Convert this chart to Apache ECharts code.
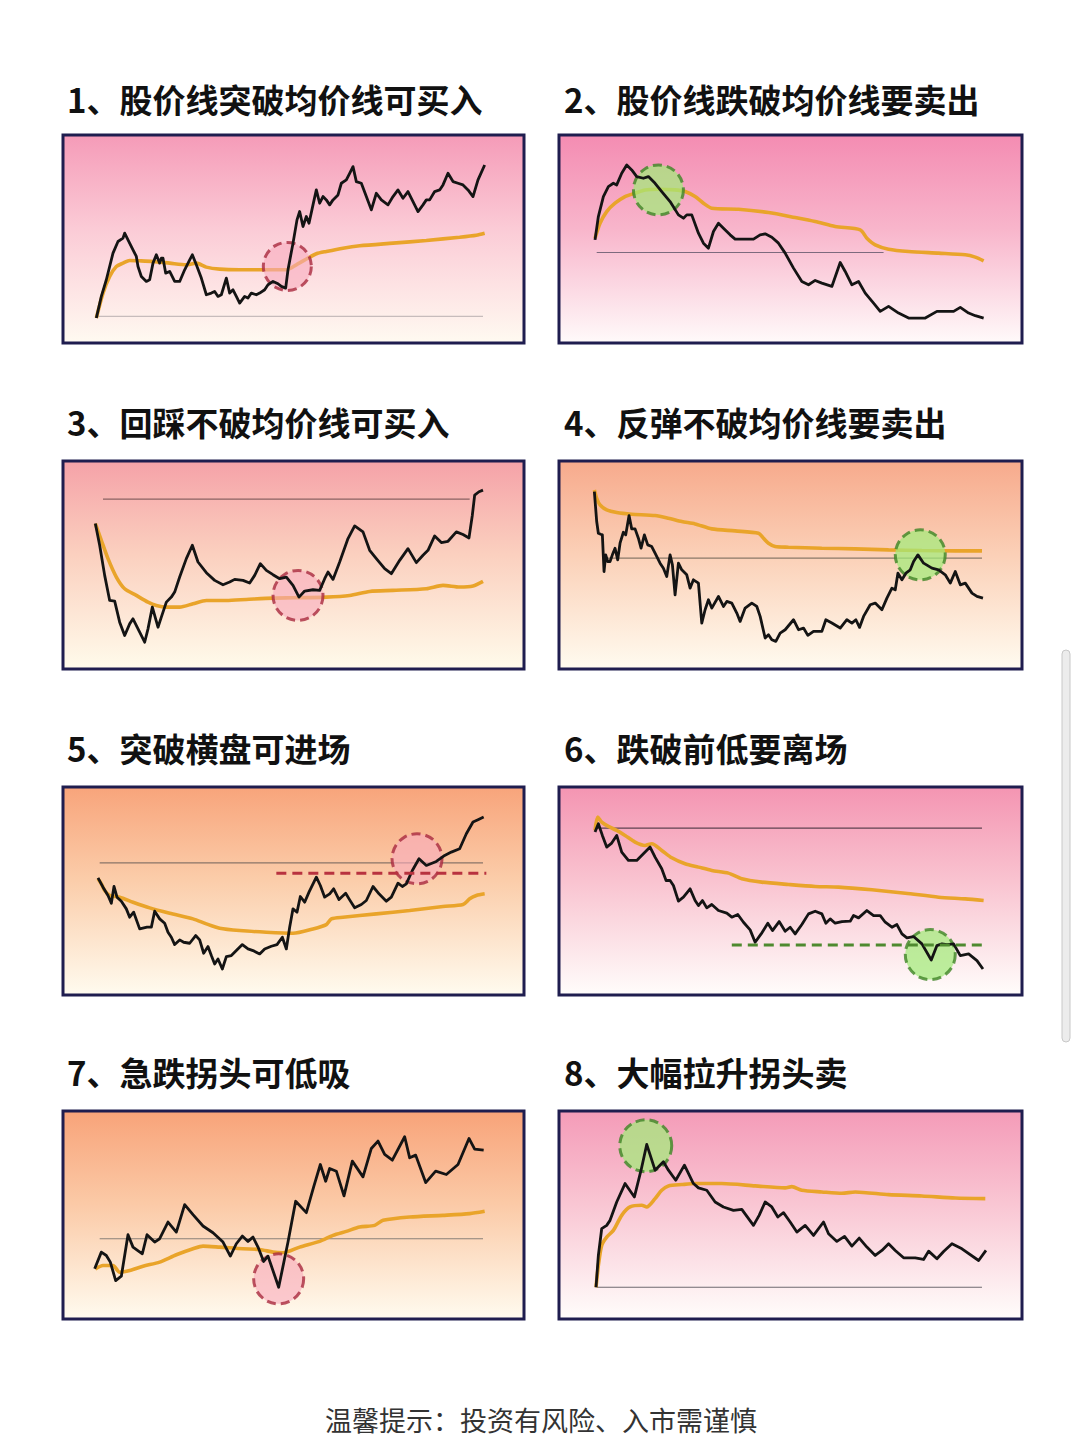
<!DOCTYPE html>
<html><head><meta charset="utf-8">
<script src="https://cdn.jsdelivr.net/npm/echarts@6/dist/echarts.min.js"></script>
<style>html,body{margin:0;padding:0;background:#fff}#c{width:1080px;height:1438px}</style>
</head><body><div id="c"></div>
<script>
// ---------- titles ----------
const titles = ['1、股价线突破均价线可买入','2、股价线跌破均价线要卖出','3、回踩不破均价线可买入','4、反弹不破均价线要卖出','5、突破横盘可进场','6、跌破前低要离场','7、急跌拐头可低吸','8、大幅拉升拐头卖'];
const footer = '温馨提示：投资有风险、入市需谨慎';

// ---------- panel 1 ----------
const price1 = [[11,9.5],[12.5,16],[14,21],[16,29],[17.5,32.5],[19,33.5],[19.5,35],[20.5,33],[22,30],[23,28],[23.5,25],[24.5,22],[26,20.5],[27,21],[28,26],[29,28.5],[30,26],[30.5,27.5],[31,27.5],[31.8,23],[33,23.5],[34.5,20.5],[36,20.5],[37.5,24],[39,27],[39.8,28.5],[41,25.5],[42.5,21.5],[44,16.5],[45.5,17],[46.5,17.5],[47.5,16],[48.5,16.5],[50,21.5],[51,17],[52,18],[53,16],[54,14],[55.5,16],[56.5,15.5],[57.5,17],[59,16.5],[60,17],[61.5,18],[62.5,19.5],[64,20.5],[65.5,19.8],[66.5,19],[67.8,18.5],[68.5,24],[70,32],[71.2,39],[72,41.5],[73,37],[74,40],[74.8,38],[76,43.5],[77,48],[78,44],[79,46],[80,45],[81,43.5],[82,45],[83.5,46.5],[84.5,50],[86,51],[87,53],[88,55],[89,50.5],[90.5,50],[92,46],[93.5,42],[95,47],[96.5,45],[98.5,43.5],[100,46],[101.5,48],[103,45.5],[104.5,47.5],[106,44.5],[107.5,41.5],[109,43.5],[110,45],[111,45],[112.5,47.5],[114,48],[115,49.5],[116.5,53],[118,50.5],[119.5,50],[121,49.5],[122.5,48],[124,46],[125.5,51],[127.5,55.5]];
const ma1 = [[11,9.5],[13,17],[15,22],[17,25],[19,26],[21,26.8],[24,26.7],[28,26.5],[33,26],[38,25.5],[41,26],[44,24.8],[48,24.2],[54,24],[61,24],[68,24],[71,25.5],[74.5,27.5],[77,28.8],[80,29.5],[85,30.5],[90,31.2],[100,32],[110,32.8],[120,33.8],[125,34.4],[127.5,35]];
const ref1 = [[[11,10],[127,10]]];
const circle1 = [68.3,25];

// ---------- panel 2 ----------
const price2 = [[12,33],[13,40],[14.5,46],[16,49],[17.5,50],[18.5,49.5],[20,53],[21.5,55.5],[23,54],[24.5,52],[26.5,51.5],[28,52],[30,50],[32,47.5],[34.5,44.5],[37,40.5],[38.5,39.5],[39.5,40.5],[41,40.5],[43,35],[44.5,32],[46,30.5],[47.5,35.5],[49,38],[50.5,36.5],[52.5,34.5],[54,33.2],[56,33.2],[59.5,33.2],[61.5,34.5],[63,34.8],[65,33.8],[67,32],[69,29],[71.5,24.5],[74,20.5],[76,19.5],[78,20.8],[80,20],[83,19],[85.5,26.2],[87,23.5],[89,19.5],[91,20.5],[93,17],[95.5,14],[97.5,11.5],[100,13],[103,11],[106,9.5],[111,9.5],[114.5,11.5],[117,11.5],[119.5,11.5],[121.5,12.7],[124,11],[126,10.2],[128.5,9.5]];
const ma2 = [[12,33.5],[13.5,38],[15.5,41.5],[18,44],[21,46],[24,47],[27,48],[31,48.2],[36,48],[39,47.5],[42,46],[44.5,44],[47,42.5],[55,42.2],[64,41.2],[72,39.7],[78,38.5],[84,37],[91.5,36],[93.5,33.5],[96,31.5],[100,30.2],[106,29.5],[115,29],[123,28.5],[126,27.8],[128.5,26.7]];
const ref2 = [[[12.5,29.2],[98.5,29.2]]];
const circle2 = [31,48];

// ---------- panel 3 ----------
const price3 = [[10.7,45.5],[12,39],[13.5,30],[15,22.5],[16.5,22.3],[18,16],[19.5,12],[21,15.5],[22,17],[24,13],[25.5,10],[26.5,14],[27.8,20.5],[29.5,14.5],[30.5,17.5],[32,22],[33.5,23.5],[34.5,25],[36,29.5],[38,35],[39.8,39],[41.5,34],[44,30.8],[46.5,28.5],[49,27.2],[51,28],[52.5,28.8],[55,28.5],[57,27.7],[58.5,30],[60.2,33.5],[62,31.5],[64,30.2],[66,29],[68,29.5],[70,27],[71.8,23.5],[73.5,25.3],[76,25.7],[78,25.5],[79.5,29],[80.5,31],[82,28.8],[84,34],[86.5,41],[88.5,44.8],[91,43],[93,37.5],[95,35],[97.5,32],[99.5,30.5],[102,34.5],[104.5,38],[107,33.8],[109,36],[110.5,37.5],[112.5,41.8],[114.5,39.8],[116.5,40.2],[119,43],[121,42.2],[122.8,41.2],[123.8,48],[124.5,54],[125.8,55],[127,55.5]];
const ma3 = [[10.7,45.5],[12.5,40.5],[14.5,35],[17,29.5],[19.5,26],[23,24],[26.5,22],[29,21],[32,20.5],[36,20.5],[40,21.5],[44,22.5],[50,22.5],[56,22.8],[64,23.2],[70,23.3],[80,23.5],[87,24],[93,25.2],[100,25.5],[110,26],[115,27],[120,26.5],[124,26.8],[127,28.2]];
const ref3 = [[[13,52.8],[123,52.8]]];
const circle3 = [71.5,24];

// ---------- panel 4 ----------
const price4 = [[11.8,55],[12.5,46],[13,42.5],[13.7,42.2],[14.2,42],[14.7,31],[15.2,36],[15.8,34],[16.5,34],[17.2,36],[18,38],[18.8,34.5],[19.5,39.5],[20.5,42.8],[21.2,42],[22.2,47.8],[23,43.8],[24,43.8],[25,41],[25.8,38],[26.8,42],[27.8,39],[29,38.5],[30,36.5],[31.5,33.5],[32.5,32],[33.5,29.5],[34.5,36],[35.2,33],[36,24],[37,33.5],[38,31.5],[39.5,30],[40.5,26],[41.5,28.5],[43,27.5],[44,15.5],[45,19.5],[46,22.5],[47,20],[49,23.5],[50.5,20.5],[51.5,22],[53,21.5],[54.5,18.5],[55.5,16],[57,20],[59,21.5],[60.5,20.5],[61.5,17.5],[63,11],[64,12],[65,10.5],[66.2,10],[67.5,12.5],[69,13.5],[71.5,16.5],[73,13.5],[74.5,14],[75.8,11.8],[77.5,13],[80,13],[81.2,16.5],[83,15.5],[85.5,14],[87.5,16.5],[89,15.5],[90.2,16.5],[91.3,14.2],[92.5,17.5],[94.5,21],[96,21.5],[98,19.5],[99.5,23],[101,26],[102,25.5],[102.8,30.5],[104,28.5],[105.2,30.5],[106.5,31.5],[107.5,34],[108.8,36],[110.5,33.5],[113,32],[115,31.5],[117,30],[118.5,27.5],[120,31],[121.5,27],[123,27.5],[125,24.5],[126.5,23.5],[128.3,23]];
const ma4 = [[11.8,55.5],[12.5,53],[13.5,51],[15.5,49.5],[18.5,48.7],[23,48.2],[30,47.8],[34,47],[38,46],[42,45.3],[47,43.8],[54,43.2],[61,42.5],[62.5,41],[64,39.5],[66,38.5],[70,38.3],[80,38],[90,37.8],[100,37.5],[110,37.3],[120,37.2],[128,37.2]];
const ref4 = [[[14.5,35],[128,35]]];
const circle4 = [109.5,36];

// ---------- panel 5 ----------
const price5 = [[11.5,36.8],[13,34],[14.5,31.5],[15.5,29.2],[16.3,34.2],[17.2,31],[18.5,29.8],[20,27.5],[21,25],[22.2,26.5],[24,21.5],[26.2,22],[27.5,22],[28.5,26.8],[30,24.5],[31.5,23.2],[32.5,20.5],[33.5,19],[34.5,16.8],[36,18.2],[37.2,17.5],[39,17.2],[40.8,19.5],[42,18.2],[43.2,14.2],[44.5,16.2],[45.5,13.5],[46.5,11],[47.5,12.5],[48.8,9.5],[50,13.2],[51.5,13.5],[53,15],[54.8,16.8],[56.5,15.5],[58,15],[60,14],[61.5,15.5],[63.5,16.3],[65.2,16.8],[66.8,19],[68,15.5],[69,22],[70,27.5],[71.2,26.5],[72.2,31.2],[73.5,29.5],[74.8,32.5],[77,37],[78.2,34.5],[79.5,31],[81,32],[82.2,33.5],[83.8,30.3],[85.8,32.2],[87,30.2],[88.5,27.8],[90.5,28.8],[92,30],[94,34.2],[95.8,32],[98,29.8],[99.5,31],[101.5,35.2],[102.8,34.2],[104,35],[105.8,39],[107.8,42.5],[110,40.5],[113,41.7],[115.5,43.5],[117.5,44.5],[120,45.5],[122,50],[124,53.5],[125.5,54.2],[127.2,55]];
const ma5 = [[11.5,36.5],[12.5,35],[13.5,33],[15,31.5],[18,31],[22,29.5],[27,27.8],[33,26.2],[40,24.5],[44,23],[48,21.7],[54,21],[62,20.5],[70,20.2],[76,21.5],[80,22.8],[81.5,24.5],[85,25],[95,26],[105,27],[115,28.2],[121,28.8],[123,30.5],[125,31.5],[127.5,32]];
const ref5 = [[[12,41.3],[127,41.3]]];
const dash5 = [[65,38.2],[128,38.2]];
const circle5 = [107.2,42.5];

// ---------- panel 6 ----------
const price6 = [[12,50.5],[13,53],[14.2,49.5],[15.5,46],[17,47.2],[18.5,49.5],[20,44.5],[22,42],[24.5,42],[26.5,44],[28.5,46],[30,43],[32,39.5],[33.3,36],[34.5,36],[35.5,34.5],[37,29.8],[38.5,31],[40.5,33.5],[42,30],[43,28.5],[44.2,30],[45.5,27.8],[47,28.8],[49,27],[51.5,26.2],[53,25],[54.8,25.8],[56.5,23.5],[58.5,21.2],[60,17.5],[61.8,20],[63.8,23.2],[65.2,21],[67.2,23.7],[69,20.8],[70.5,22],[72,20],[74,22.8],[76,26],[78,26.8],[80,26],[81.2,23.2],[82.5,24.5],[84,23.2],[86,23.7],[88.5,23.8],[89.5,25.5],[91,24.8],[93.5,27],[95.5,25.5],[97.5,25.5],[99,23.5],[101,22],[102.5,22.8],[104,20],[105.5,18.8],[107.5,19.2],[110,17],[112.8,12.2],[114.5,16.5],[116,17],[117.5,16.8],[119.5,17],[121.5,13.5],[124,14],[126.5,12],[128.3,9.5]];
const ma6 = [[12,51],[12.8,55],[14,53.5],[16,52.2],[18.5,51],[21,49.5],[24,47.5],[27,46.5],[29,47],[32,45],[35,42.8],[39,41],[43,40],[47,39],[52,38.2],[56,36.5],[62,35.5],[70,34.8],[78,34.2],[85,34],[95,33.2],[105,32.2],[115,31],[123,30.5],[128.5,30]];
const ref6 = [[[12,51.7],[128,51.7]]];
const dash6 = [[53,16.7],[128.5,16.7]];
const circle6 = [112.5,13.8];

// ---------- panel 7 ----------
const price7 = [[10.5,17],[12.5,22],[14,21],[15.2,19],[16.8,13.5],[18.5,14.8],[20.5,27.2],[22,23.5],[24.8,21.5],[26.2,27.2],[28.5,25],[30,26],[32.5,31],[35,28],[37.5,36.2],[40,33.2],[43,29.8],[46,27.8],[49,25],[51.2,20.8],[53,24.5],[54.8,26.8],[56.5,25.2],[58,26.5],[59.5,23.5],[61.2,19.2],[62.5,20.8],[65.7,11.5],[68.5,25],[70.8,37.2],[74,33.8],[76.2,41.5],[78.2,48.2],[79.8,43.2],[81,47],[83,46.2],[85.3,38.8],[87.8,49.2],[91,44.5],[93.5,53],[95.5,55.2],[97.5,51.2],[99.8,49.5],[103.5,56.5],[105,50.2],[106.8,51],[109.8,42.8],[112.8,46.2],[116,45.2],[119.5,48.2],[122.8,56],[124.5,52.8],[127.2,52.5]];
const ma7 = [[10.7,17],[13,18],[16,18],[18,16],[21,16.5],[25,17.8],[30,19],[35,21.2],[40,23],[43,23.8],[48,23.5],[55,23],[60,22.8],[64,22],[67,21.8],[72,23.5],[78,25.2],[82,27],[86,28.2],[90,29.5],[94.5,30],[97,31.5],[105,32.5],[115,33],[123,33.5],[127.5,34.2]];
const ref7 = [[[12,26],[127,26]]];
const circle7 = [65.7,14];

// ---------- panel 8 ----------
const price8 = [[12.3,11.5],[13,21],[14,29],[15.5,30],[16.5,31.5],[18.5,37],[21,42.5],[23.8,38.5],[25.8,46.5],[27.5,54.2],[30,46.5],[32.5,49],[34,46.5],[36.2,43.5],[38.8,48],[41.5,42.5],[43,41.2],[45.5,40.5],[48,37],[50.5,35.5],[53.5,34.5],[56,34.8],[59.5,30],[61.2,33],[63,37],[65,35.5],[66.8,32.5],[68.5,33.8],[70.5,31],[72.5,28],[75,30],[77.5,27],[80.5,31],[82,27.5],[84.5,25.2],[86.8,26.7],[89,23.8],[91.2,26.2],[93.5,23.5],[96,21],[98,22.5],[100,24.5],[102,22.5],[104.5,20.3],[108,20.3],[110.5,19.8],[112,22.3],[114.5,20],[116.5,22.2],[119,24.5],[122,23],[127,19.5],[129.2,22.5]];
const ma8 = [[12.3,11.5],[13,18],[14,24],[15.5,26.5],[17.5,28.5],[20,33],[22.5,35.5],[26,36],[27.5,35.5],[30,38],[32,40.5],[34,41.8],[38,42.2],[42,42.5],[50,42.5],[60,41.8],[69,41.2],[71,41.6],[74,40.5],[80,40],[86,39.6],[90,40],[100,39.2],[110,38.8],[120,38.2],[129,38]];
const ref8 = [[[12.5,11.5],[128,11.5]]];
const circle8 = [27.2,53.8];

// ---------- layout / styles ----------
const RED = {fill:'rgba(248,172,190,0.75)', stroke:'#a92a3e'};
const GREEN = {fill:'rgba(162,236,122,0.9)', stroke:'#3f8426'};
const panels = [
  {price:price1, ma:ma1, refs:ref1, circle:circle1, mark:RED, size:48, col:0,row:0, xr:[1.0,139.3], yr:[2.0,64.5], bg:['#f59bb8','#fbcbd6','#fffaf1'], refColor:'#c7bcbc'},
  {price:price2, ma:ma2, refs:ref2, circle:circle2, mark:GREEN, size:50, col:1,row:0, xr:[1.2,140], yr:[2.0,64.5], bg:['#f48cb2','#f8b5cb','#fffafa'], refColor:'#7d6a7e'},
  {price:price3, ma:ma3, refs:ref3, circle:circle3, mark:RED, size:50, col:0,row:1, xr:[1.0,139.3], yr:[2.0,64.2], bg:['#f5a2a8','#fbd0bf','#fffbeb'], refColor:'#8a6262'},
  {price:price4, ma:ma4, refs:ref4, circle:circle4, mark:GREEN, size:50, col:1,row:1, xr:[1.2,140], yr:[1.7,64.2], bg:['#f7aa8c','#fbd0b7','#fffbf0'], refColor:'#8a7868'},
  {price:price5, ma:ma5, refs:ref5, circle:circle5, mark:RED, size:50, col:0,row:2, xr:[1.0,139.3], yr:[1.7,64.0], bg:['#f8a47b','#fbcdaa','#fffbef'], refColor:'#8a7468', dash:dash5, dashColor:'#b8323f'},
  {price:price6, ma:ma6, refs:ref6, circle:circle6, mark:GREEN, size:50, col:1,row:2, xr:[1.2,140], yr:[1.7,64.0], bg:['#f495b2','#f9c3d0','#fffdfb'], refColor:'#5e4250', dash:dash6, dashColor:'#4e8a2f'},
  {price:price7, ma:ma7, refs:ref7, circle:circle7, mark:RED, size:50, col:0,row:3, xr:[1.0,139.3], yr:[2.0,64.2], bg:['#f8a379','#fbcaa7','#fffbef'], refColor:'#8a8078'},
  {price:price8, ma:ma8, refs:ref8, circle:circle8, mark:GREEN, size:52, col:1,row:3, xr:[1.2,140], yr:[2.0,64.2], bg:['#f49bb8','#f9c6d3','#fffdfb'], refColor:'#6e6a70'}
];
const colLeft = [63, 559], colWidth = [461, 463];
const rowTop = [135, 461, 787, 1111], boxH = 208;
const titleY = [99, 422, 748, 1072], titleX = [67, 564];

const chart = echarts.init(document.getElementById('c'), null, {renderer:'svg'});
const grids = [], xAxes = [], yAxes = [], series = [], graphics = [];

panels.forEach((p, i) => {
  const left = colLeft[p.col], top = rowTop[p.row], w = colWidth[p.col];
  grids.push({left, top, width:w, height:boxH, containLabel:false});
  xAxes.push({type:'value', gridIndex:i, min:p.xr[0], max:p.xr[1], show:false});
  yAxes.push({type:'value', gridIndex:i, min:p.yr[0], max:p.yr[1], show:false});
  graphics.push({type:'rect', z:-10, shape:{x:left, y:top, width:w, height:boxH},
    style:{fill:new echarts.graphic.LinearGradient(0,0,0,1,[{offset:0,color:p.bg[0]},{offset:0.45,color:p.bg[1]},{offset:1,color:p.bg[2]}]), stroke:'#1f1d4f', lineWidth:3}});
  graphics.push({type:'text', style:{text:titles[i], x:titleX[p.col], y:titleY[p.row], fill:'#111', font:'bold 33px "Noto Sans CJK SC"', textVerticalAlign:'middle', textAlign:'left'}});
  p.refs.forEach(r => series.push({type:'line', xAxisIndex:i, yAxisIndex:i, data:r, symbol:'none', silent:true, z:1,
    lineStyle:{color:p.refColor, width:1.2}}));
  series.push({type:'line', xAxisIndex:i, yAxisIndex:i, data:p.ma, symbol:'none', smooth:0.25, silent:true, z:2,
    lineStyle:{color:'#e9a42a', width:3.6}});
  series.push({type:'scatter', xAxisIndex:i, yAxisIndex:i, data:[p.circle], symbol:'circle', symbolSize:p.size, silent:true, z:3,
    itemStyle:{color:p.mark.fill, borderColor:p.mark.stroke, borderWidth:3, borderType:[9,5]}});
  series.push({type:'line', xAxisIndex:i, yAxisIndex:i, data:p.price, symbol:'none', silent:true, z:4,
    lineStyle:{color:'#141414', width:2.8, join:'round'}});
  if (p.dash) series.push({type:'line', xAxisIndex:i, yAxisIndex:i, data:p.dash, symbol:'none', silent:true, z:5,
    lineStyle:{color:p.dashColor, width:3, type:[10,6]}});
});

graphics.push({type:'text', style:{text:footer, x:541, y:1419, fill:'#333', font:'27px "Noto Sans CJK SC"', textAlign:'center', textVerticalAlign:'middle'}});
graphics.push({type:'rect', shape:{x:1062, y:650, width:8, height:392, r:4}, style:{fill:'#ececec', stroke:'#c8c8c8', lineWidth:1}});

chart.setOption({
  animation:false,
  backgroundColor:'#ffffff',
  grid:grids, xAxis:xAxes, yAxis:yAxes, series, graphic:graphics
});
</script></body></html>
